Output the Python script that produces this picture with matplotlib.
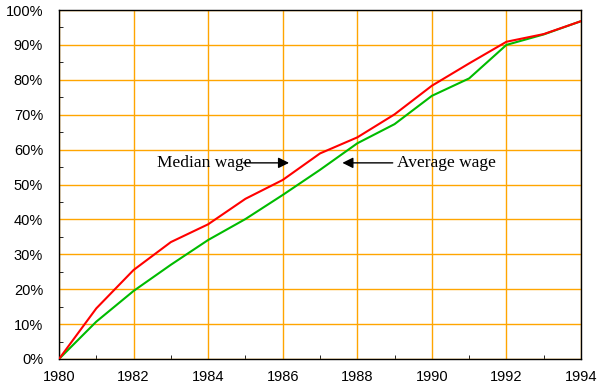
import matplotlib
matplotlib.use("Agg")
import matplotlib.pyplot as plt
from matplotlib.ticker import MultipleLocator, FuncFormatter

years = [1980, 1981, 1982, 1983, 1984, 1985, 1986, 1987, 1988, 1989, 1990, 1991, 1992, 1993, 1994]
median_wage = [0, 14.5, 25.5, 33.5, 38.6, 45.9, 51.3, 58.9, 63.5, 70.1, 78.3, 84.7, 90.9, 93.1, 96.8]
average_wage = [0, 10.7, 19.5, 27.0, 34.1, 40.1, 47.0, 54.2, 61.8, 67.3, 75.4, 80.4, 90.0, 93.0, 96.8]

median_label = "Median wage"
average_label = "Average wage"

fig = plt.figure(figsize=(6.05, 3.85), dpi=100)
ax = fig.add_axes([59/605, 26/385, 522/605, 349/385])

ax.plot(years, average_wage, color="#00BB00", lw=1.5, zorder=3)
ax.plot(years, median_wage, color="#FF0000", lw=1.5, zorder=4)

ax.set_xlim(1980, 1994)
ax.set_ylim(0, 100)
ax.xaxis.set_major_locator(MultipleLocator(2))
ax.xaxis.set_minor_locator(MultipleLocator(1))
ax.yaxis.set_major_locator(MultipleLocator(10))
ax.yaxis.set_minor_locator(MultipleLocator(5))
ax.yaxis.set_major_formatter(FuncFormatter(lambda v, p: f"{int(round(v))}%"))
ax.xaxis.set_major_formatter(FuncFormatter(lambda v, p: f"{int(round(v))}"))

ax.grid(True, which="major", color="#FFA500", lw=1.0, zorder=1)
ax.set_axisbelow(True)
for s in ax.spines.values():
    s.set_color("black")
    s.set_linewidth(1.0)

ax.tick_params(which="major", length=0, labelsize=10.5, labelcolor="black")
ax.tick_params(axis="y", which="major", pad=11.5)
ax.tick_params(axis="x", which="major", pad=8)
ax.tick_params(which="minor", length=3, direction="in", color="black")
for lab in ax.get_xticklabels() + ax.get_yticklabels():
    lab.set_family("Liberation Sans")

ax.text(1982.63, 56.2, median_label, family="Liberation Serif", fontsize=12.5,
        va="center", ha="left", zorder=5)
ax.annotate("", xy=(1986.17, 56.2), xytext=(1984.95, 56.2),
            arrowprops=dict(arrowstyle="-|>", mutation_scale=16, color="black", lw=1,
                            shrinkA=0, shrinkB=0), zorder=5)
ax.text(1989.06, 56.2, average_label, family="Liberation Serif", fontsize=12.5,
        va="center", ha="left", zorder=5)
ax.annotate("", xy=(1987.6, 56.2), xytext=(1988.95, 56.2),
            arrowprops=dict(arrowstyle="-|>", mutation_scale=16, color="black", lw=1,
                            shrinkA=0, shrinkB=0), zorder=5)

fig.savefig("out.png", dpi=100)
